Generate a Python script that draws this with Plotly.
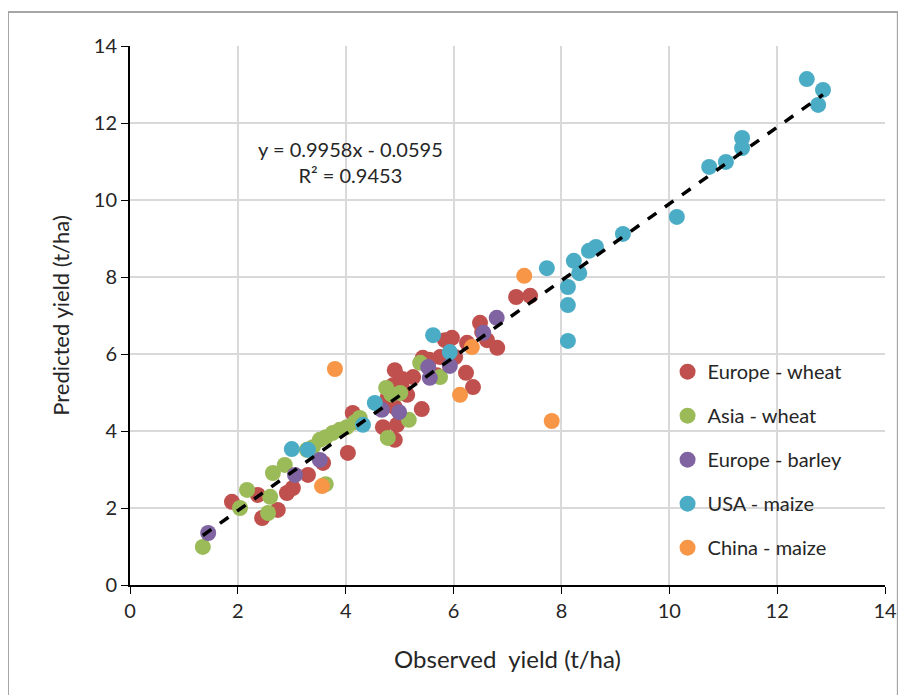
import plotly.graph_objects as go
import numpy as np

# ---- data (observed, predicted) ----
europe_wheat_x = [1.89, 2.37, 2.45, 2.74, 2.91, 3.02, 3.30, 3.58, 4.04, 4.13, 4.69, 4.91, 4.95, 5.41, 4.91, 4.78, 4.88, 5.04, 5.14,
                  4.91, 5.25, 5.43, 5.69, 5.75, 5.84, 5.97, 6.03, 6.23, 6.36, 6.25, 6.49, 6.53, 6.62, 6.81, 7.16, 7.42, 5.55, 5.05]
europe_wheat_y = [2.16, 2.34, 1.74, 1.95, 2.39, 2.52, 2.86, 3.17, 3.43, 4.47, 4.10, 3.77, 4.16, 4.57, 4.62, 4.88, 5.19, 5.14, 4.94,
                  5.58, 5.40, 5.90, 5.45, 5.92, 6.36, 6.42, 5.92, 5.51, 5.14, 6.29, 6.81, 6.57, 6.36, 6.16, 7.48, 7.51, 5.85, 5.35]

asia_wheat_x = [1.35, 2.04, 2.17, 2.56, 2.60, 2.65, 2.87, 3.28, 3.39, 3.52, 3.63, 3.76, 3.89, 4.02, 4.17, 4.26,
                3.63, 4.78, 5.17, 4.75, 5.01, 5.38, 5.75, 4.85]
asia_wheat_y = [0.99, 2.00, 2.47, 1.87, 2.29, 2.91, 3.12, 3.51, 3.58, 3.77, 3.84, 3.95, 4.03, 4.10, 4.23, 4.34,
                2.62, 3.82, 4.29, 5.12, 4.99, 5.77, 5.40, 4.95]

europe_barley_x = [1.45, 3.06, 3.52, 4.67, 4.99, 5.53, 5.56, 5.93, 6.55, 6.80]
europe_barley_y = [1.35, 2.86, 3.25, 4.55, 4.49, 5.66, 5.38, 5.69, 6.55, 6.94]

usa_maize_x = [12.55, 12.85, 12.76, 11.35, 11.35, 11.05, 10.74, 10.14, 9.14, 8.64, 8.51, 8.23, 8.33, 7.73,
               8.12, 8.12, 8.12, 5.62, 5.93, 4.54, 4.32, 3.00, 3.30]
usa_maize_y = [13.14, 12.86, 12.47, 11.61, 11.35, 10.99, 10.86, 9.56, 9.12, 8.78, 8.68, 8.42, 8.10, 8.23,
               7.74, 7.27, 6.34, 6.49, 6.05, 4.73, 4.16, 3.53, 3.51]

china_maize_x = [7.31, 7.82, 3.80, 6.34, 6.12, 3.56]
china_maize_y = [8.03, 4.26, 5.61, 6.18, 4.94, 2.57]

series_names = ["Europe - wheat", "Asia - wheat", "Europe - barley", "USA - maize", "China - maize"]
series_colors = ["#C0504D", "#9BBB59", "#8064A2", "#4BACC6", "#F79646"]

slope, intercept = 0.9958, -0.0595
r2 = 0.9453

x_ticks = [0, 2, 4, 6, 8, 10, 12, 14]
y_ticks = [0, 2, 4, 6, 8, 10, 12, 14]

FONT = "Lato, Open Sans, sans-serif"
TXT = "#262626"

fig = go.Figure()

series = [(europe_wheat_x, europe_wheat_y), (asia_wheat_x, asia_wheat_y), (europe_barley_x, europe_barley_y),
          (usa_maize_x, usa_maize_y), (china_maize_x, china_maize_y)]

for (xs, ys), name, col in zip(series, series_names, series_colors):
    fig.add_trace(go.Scatter(x=xs, y=ys, mode="markers", name=name, legendgroup=name,
                             marker=dict(size=16, color=col, line=dict(width=0))))

all_x = np.concatenate([np.array(s[0]) for s in series])
xl = np.array([all_x.min(), all_x.max()])
fig.add_trace(go.Scatter(x=xl, y=slope * xl + intercept, mode="lines", showlegend=False,
                         line=dict(color="black", width=3.5, dash="dash")))

fig.add_annotation(x=4.08, y=11.0, xref="x", yref="y", showarrow=False,
                   text=f"y = {slope}x - {abs(intercept)}<br>R² = {r2}",
                   font=dict(family=FONT, size=20, color=TXT), align="center")

fig.add_shape(type="rect", xref="paper", yref="paper", x0=-0.1616, x1=1.017, y0=-0.3, y1=1.063,
              line=dict(color="#a6a6a6", width=2), layer="below")

fig.update_layout(
    width=906, height=695,
    margin=dict(l=122, r=29, t=38, b=118),
    paper_bgcolor="white", plot_bgcolor="white",
    font=dict(family=FONT, color=TXT),
    legend=dict(x=0.712, y=0.432, xanchor="left", yanchor="top", bgcolor="rgba(255,255,255,0)",
                font=dict(size=20, family=FONT, color=TXT), tracegroupgap=15, itemwidth=30),
    xaxis=dict(range=[0, 14], tickvals=x_ticks, showgrid=True, gridcolor="#d9d9d9", gridwidth=2,
               showline=True, linecolor="black", linewidth=2, ticks="outside", ticklen=7, tickcolor="black",
               tickfont=dict(size=20, family=FONT, color=TXT), zeroline=False, automargin=False,
               title=dict(text="Observed  yield (t/ha)", font=dict(size=24, family=FONT, color=TXT), standoff=30)),
    yaxis=dict(range=[0, 14], tickvals=y_ticks, showgrid=True, gridcolor="#d9d9d9", gridwidth=2,
               showline=True, linecolor="black", linewidth=2, ticks="outside", ticklen=7, tickcolor="black",
               tickfont=dict(size=20, family=FONT, color=TXT), zeroline=False, automargin=False,
               title=dict(text="Predicted yield (t/ha)", font=dict(size=22, family=FONT, color=TXT), standoff=18)),
)

fig.write_html("out.html")
